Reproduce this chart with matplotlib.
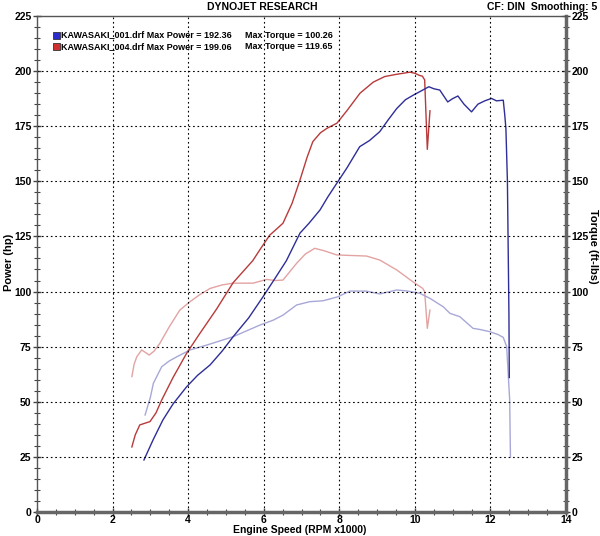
import numpy as np
import matplotlib
matplotlib.use('Agg')
import matplotlib.pyplot as plt
from matplotlib.patches import Rectangle
from matplotlib.ticker import MultipleLocator

# KAWASAKI_004 (red) power / torque
red_pwr_rpm = [2.51, 2.6, 2.72, 2.99, 3.15, 3.3, 3.6, 3.96, 4.31, 4.75, 5.19, 5.45, 5.71,
               5.9, 6.16, 6.35, 6.51, 6.75, 6.96, 7.15, 7.3, 7.5, 7.67, 7.94, 8.2, 8.55,
               8.9, 9.2, 9.5, 9.87, 10.0, 10.13, 10.2, 10.26, 10.33, 10.4]
red_pwr = [29.5, 35, 39.5, 41, 45, 50.8, 61, 72, 81, 92, 104, 109, 114,
           119, 125.6, 128.5, 131, 140, 150.6, 161, 168, 172, 174, 176.4, 182, 190,
           195, 197.5, 198.5, 199.5, 199, 198, 197.7, 196, 164.5, 182]
red_trq_rpm = [2.51, 2.57, 2.64, 2.77, 2.97, 3.1, 3.25, 3.5, 3.78, 4.05, 4.3, 4.58, 4.9,
               5.19, 5.72, 6.08, 6.3, 6.51, 6.87, 7.1, 7.35, 7.6, 7.93, 8.72, 9.07,
               9.52, 9.95, 10.21, 10.26, 10.33, 10.4]
red_trq = [61.4, 67, 70.4, 73.5, 71.2, 73, 76.5, 84, 91.6, 95.4, 98.5, 101.4, 103,
           103.8, 103.8, 105.5, 105, 105.2, 112.8, 117, 119.6, 118.5, 116.6, 116.1,
           114.3, 109.8, 104.4, 101.4, 99.9, 83.3, 91.6]

# KAWASAKI_001 (blue) power / torque
blue_pwr_rpm = [2.83, 3.08, 3.33, 3.6, 3.96, 4.25, 4.58, 4.9, 5.19, 5.6, 5.98, 6.3, 6.6,
                6.96, 7.2, 7.49, 7.7, 7.93, 8.2, 8.54, 8.8, 9.07, 9.3, 9.52, 9.75, 9.95,
                10.21, 10.37, 10.5, 10.66, 10.87, 11.0, 11.14, 11.3, 11.5, 11.67, 11.85,
                12.03, 12.16, 12.34, 12.38, 12.41, 12.45, 12.47, 12.49, 12.5]
blue_pwr = [23.6, 33, 41.7, 49, 56.8, 62, 66.7, 73, 79.5, 88, 97.6, 106, 114,
            126.5, 131, 137, 143, 149, 156, 165.7, 168.5, 172.5, 178, 183, 187, 189,
            191.4, 192.9, 192, 191.4, 186, 187.5, 188.7, 185, 181.5, 185, 186.5,
            187.6, 186.5, 186.8, 180, 174, 150, 120, 90, 61]
blue_trq_rpm = [2.86, 3.0, 3.08, 3.3, 3.5, 3.7, 4.05, 4.49, 5.19, 5.9, 6.25, 6.51, 6.87,
                7.22, 7.57, 7.96, 8.28, 8.72, 9.07, 9.52, 9.78, 10.13, 10.4, 10.75,
                10.93, 11.19, 11.54, 11.72, 11.98, 12.2, 12.34, 12.43, 12.51, 12.53]
blue_trq = [44, 52, 58.4, 65.9, 68.5, 70.4, 73.5, 75.7, 79.5, 84.8, 87, 89.3, 93.9,
            95.4, 95.8, 97.6, 100.2, 100.2, 98.9, 100.7, 100.3, 99.2, 96.9, 93.1,
            90.1, 88.6, 83.3, 82.8, 81.8, 80.5, 79.2, 75, 50.8, 25]

legend_rows = [
    ('KAWASAKI_001.drf Max Power = 192.36', 'Max Torque = 100.26', '#2b2bd0'),
    ('KAWASAKI_004.drf Max Power = 199.06', 'Max Torque = 119.65', '#d03030'),
]

plt.rcParams['font.family'] = ['Liberation Sans', 'DejaVu Sans']
plt.rcParams['font.weight'] = 'bold'

fig = plt.figure(figsize=(6.0, 5.36), dpi=100)
ax = fig.add_axes([0.0617, 0.0448, 0.8816, 0.9254])

ax.plot(red_trq_rpm, red_trq, color='#e3a3a3', lw=1.0)
ax.plot(blue_trq_rpm, blue_trq, color='#a8a8d8', lw=1.0)
ax.plot(red_pwr_rpm, red_pwr, color='#b83a3a', lw=1.0)
ax.plot(blue_pwr_rpm, blue_pwr, color='#2e2e98', lw=1.0)

ax.set_xlim(0, 14)
ax.set_ylim(0, 225)
ax.xaxis.set_major_locator(MultipleLocator(2))
ax.xaxis.set_minor_locator(MultipleLocator(0.5))
ax.yaxis.set_major_locator(MultipleLocator(25))
ax.yaxis.set_minor_locator(MultipleLocator(5))

for gx in range(2, 14, 2):
    ax.axvline(gx, color='black', lw=0.8, ls=(0, (1.5, 2.5)))
for gy in range(25, 225, 25):
    ax.axhline(gy, color='black', lw=0.8, ls=(0, (1.5, 2.5)))

ax.tick_params(axis='both', which='both', direction='inout', color='#444444',
               labelsize=7.5, pad=1)
ax.tick_params(axis='both', which='major', length=6, width=1)
ax.tick_params(axis='both', which='minor', length=5, width=0.8)
ax.tick_params(axis='y', which='both', left=True, right=True,
               labelleft=True, labelright=True)
ax.tick_params(axis='x', which='both', top=False)
ax.tick_params(axis='x', which='major', pad=-1)

for side in ['left', 'top']:
    ax.spines[side].set_color('#555555')
    ax.spines[side].set_linewidth(1.0)
for side in ['right', 'bottom']:
    ax.spines[side].set_color('#666666')
    ax.spines[side].set_linewidth(2.5)

fig.text(0.5, 1 - 530 / 536, 'Engine Speed (RPM x1000)', ha='center', va='center',
         fontsize=7.5, fontweight='bold')
fig.text(9 / 600, 0.51, 'Power (hp)', rotation=90, ha='center', va='center',
         fontsize=8, fontweight='bold')
fig.text(593 / 600, 0.54, 'Torque (ft-lbs)', rotation=270, ha='center', va='center',
         fontsize=8, fontweight='bold')

fig.text(0.437, 0.987, 'DYNOJET RESEARCH', ha='center', va='center', fontsize=7.5,
         fontweight='bold')
fig.text(0.995, 0.987, 'CF: DIN  Smoothing: 5', ha='right', va='center', fontsize=7.5,
         fontweight='bold')

for i, (left_txt, right_txt, col) in enumerate(legend_rows):
    yc = 1 - (35 + i * 11.5) / 536
    fig.patches.append(Rectangle((53 / 600, yc - 3.5 / 536), 7 / 600, 7 / 536,
                                 transform=fig.transFigure, facecolor=col,
                                 edgecolor='#333333', lw=0.6))
    fig.text(61 / 600, yc, left_txt, ha='left', va='center', fontsize=6.5,
             fontweight='bold')
    fig.text(245 / 600, yc, right_txt, ha='left', va='center', fontsize=6.5,
             fontweight='bold')

fig.savefig('out.png', dpi=100)
